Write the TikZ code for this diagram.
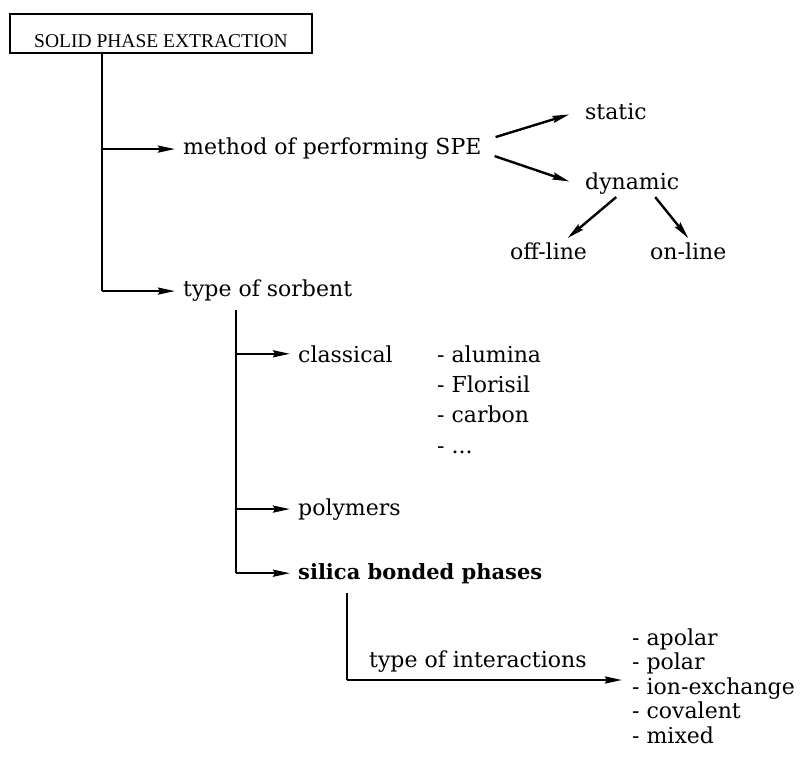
\documentclass[tikz,border=0pt]{standalone}
\usepackage{fontspec}
\setmainfont{DejaVu Serif}
\newfontfamily\boxfont{Liberation Serif}
\usetikzlibrary{arrows.meta}
\begin{document}
\begin{tikzpicture}[x=1pt,y=-1pt,
  lbl/.style={inner sep=0pt, anchor=base west, font=\fontsize{22}{25}\selectfont},
  ln/.style={line width=2.4pt},
  arr/.style={line width=2.4pt, -{Stealth[length=17pt,width=7pt,inset=2pt]}, shorten >=8pt}]
\useasboundingbox (0,0) rectangle (811,759);
% title box
\node[draw, line width=1.8pt, inner xsep=0pt, inner ysep=0pt, minimum width=302pt,
      text height=34pt, text depth=5pt, anchor=base, font=\boxfont\fontsize{19.5}{22}\selectfont]
  (spe) at (161,48) {SOLID PHASE EXTRACTION};
% level 1
\node[lbl] (method) at (183,155) {method of performing SPE};
\node[lbl] (type) at (183,297) {type of sorbent};
\node[lbl] (static) at (585,120) {static};
\node[lbl] (dynamic) at (585,190) {dynamic};
\node[lbl] (offline) at (510,260) {off-line};
\node[lbl] (online) at (650,260) {on-line};
% sorbents
\node[lbl] (classical) at (298,362) {classical};
\node[lbl] (l1) at (437,362) {- alumina};
\node[lbl] (l2) at (437,392) {- Florisil};
\node[lbl] (l3) at (437,422) {- carbon};
\node[lbl] (l4) at (437,453) {- ...};
\node[lbl] (polymers) at (298,515) {polymers};
\node[lbl, font=\fontsize{21}{24}\selectfont\bfseries] (silica) at (298,579) {silica bonded phases};
% interactions
\node[lbl] (inter) at (369,667) {type of interactions};
\node[lbl] (i1) at (632,645) {- apolar};
\node[lbl] (i2) at (632,669) {- polar};
\node[lbl] (i3) at (632,694) {- ion-exchange};
\node[lbl] (i4) at (632,718) {- covalent};
\node[lbl] (i5) at (632,743) {- mixed};
% trunk
\coordinate (tr) at (102,53);
\draw[ln] (tr) -- (tr |- type.west);
\draw[arr] (tr |- method.west) -- (method.west);
\draw[arr] (tr |- type.west) -- (type.west);
% method branches
\draw[arr] ([shift={(14,-12)}]method.east) -- ([xshift=-8pt]static.west);
\draw[arr] ([shift={(13,7)}]method.east) -- ([xshift=-8pt]dynamic.west);
\draw[arr, shorten >=0pt] ([shift={(-16,2)}]dynamic.south) -- ([shift={(19,-5)}]offline.north);
\draw[arr, shorten >=0pt] ([shift={(23,2)}]dynamic.south) -- ([shift={(0,-5)}]online.north);
% sorbent trunk
\coordinate (st) at (236,310);
\draw[ln] (st) -- (st |- silica.west);
\draw[arr] (st |- classical.west) -- (classical.west);
\draw[arr] (st |- polymers.west) -- (polymers.west);
\draw[arr] (st |- silica.west) -- (silica.west);
% silica trunk
\coordinate (si) at (347,593);
\coordinate (ie) at (630,680);
\draw[ln] (si) -- (si |- ie);
\draw[arr] (si |- ie) -- (ie);
\end{tikzpicture}
\end{document}
